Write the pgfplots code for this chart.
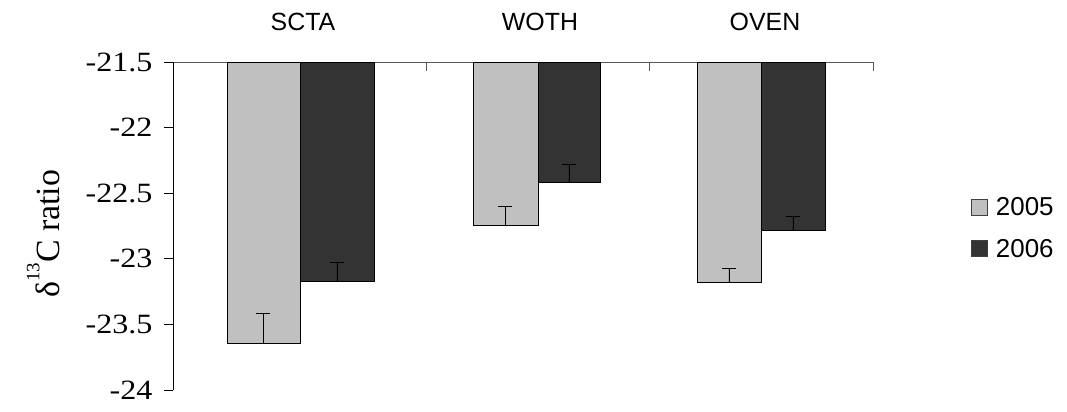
\documentclass[border=0pt]{standalone}
\usepackage{fontspec}
\setmainfont{Liberation Serif}
\newfontfamily\arialf{Liberation Sans}
\usepackage{graphicx}
\usepackage{pgfplots}
\pgfplotsset{compat=1.18}
\definecolor{lightbar}{HTML}{C0C0C0}
\definecolor{darkbar}{HTML}{333333}
\newcommand{\tl}[1]{\scalebox{1.15}[1]{#1}}
\begin{document}
\begin{tikzpicture}
\useasboundingbox (-173bp,-22bp) rectangle (894bp,390bp);
\begin{axis}[
  scale only axis, width=700bp, height=328bp,
  xmin=173, xmax=873, ymin=-24, ymax=-21.5,
  axis x line*=top, axis y line*=left,
  x axis line style={black!65, line width=0.8bp},
  y axis line style={black, line width=0.8bp},
  tick align=outside,
  major tick length=9bp,
  x tick style={black!65, line width=0.8bp, yshift=-9bp},
  y tick style={black, line width=0.8bp},
  xtick={426,649,873}, xticklabels={,,},
  extra x ticks={303,540,765},
  extra x tick labels={SCTA,WOTH,OVEN},
  extra x tick style={tick style={draw=none}, tick label style={font=\arialf\fontsize{25}{25}\selectfont, yshift=19bp}},
  ytick={-24,-23.5,-23,-22.5,-22,-21.5},
  yticklabels={\tl{-24},\tl{-23.5},\tl{-23},\tl{-22.5},\tl{-22},\tl{-21.5}},
  yticklabel style={font=\fontsize{28}{28}\selectfont, xshift=-8bp},
  ylabel={δ\raisebox{0.6em}{\fontsize{19}{19}\selectfont 13}C ratio},
  ylabel style={font=\fontsize{34}{34}\selectfont, at={(axis description cs:-0.185,0.476)}, anchor=center},
  legend style={at={(1.14,0.494)}, anchor=west, draw=none, fill=none, inner sep=0pt,
    font=\arialf\fontsize{26}{26}\selectfont, row sep=18bp, cells={anchor=west}},
  legend image code/.code={\draw[#1] (0bp,-8bp) rectangle (16bp,8bp); \path (22bp,0bp);},
  error bars/error bar style={black, line width=0.9bp},
  error bars/error mark options={black, line width=0.9bp, mark size=7bp, rotate=90},
]
\addlegendimage{fill=lightbar, draw=black!75, line width=0.8bp}
\addlegendentry{2005}
\addlegendimage{fill=darkbar, draw=black!75, line width=0.8bp}
\addlegendentry{2006}
% SCTA
\addplot[ybar, bar shift=0pt, bar width=73, fill=lightbar, draw=black, line width=0.8bp, forget plot,
  error bars/.cd, y dir=plus, y explicit] coordinates {(263.5,-23.644) +- (0,0.228)};
\addplot[ybar, bar shift=0pt, bar width=74, fill=darkbar, draw=black, line width=0.8bp, forget plot,
  error bars/.cd, y dir=plus, y explicit] coordinates {(337,-23.174) +- (0,0.147)};
% WOTH
\addplot[ybar, bar shift=0pt, bar width=65, fill=lightbar, draw=black, line width=0.8bp, forget plot,
  error bars/.cd, y dir=plus, y explicit] coordinates {(505.5,-22.745) +- (0,0.147)};
\addplot[ybar, bar shift=0pt, bar width=62, fill=darkbar, draw=black, line width=0.8bp, forget plot,
  error bars/.cd, y dir=plus, y explicit] coordinates {(569,-22.415) +- (0,0.135)};
% OVEN
\addplot[ybar, bar shift=0pt, bar width=64, fill=lightbar, draw=black, line width=0.8bp, forget plot,
  error bars/.cd, y dir=plus, y explicit] coordinates {(729,-23.182) +- (0,0.109)};
\addplot[ybar, bar shift=0pt, bar width=64, fill=darkbar, draw=black, line width=0.8bp, forget plot,
  error bars/.cd, y dir=plus, y explicit] coordinates {(793,-22.780) +- (0,0.106)};
\end{axis}
\end{tikzpicture}
\end{document}
